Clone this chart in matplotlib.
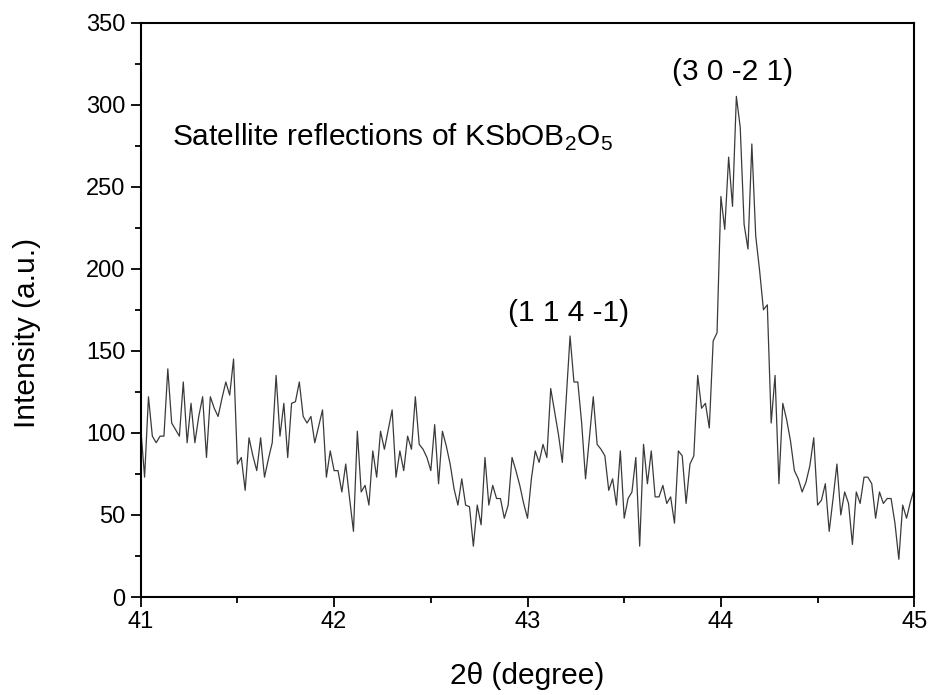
import numpy as np
import matplotlib
matplotlib.use("Agg")
import matplotlib.pyplot as plt
from matplotlib.ticker import MultipleLocator

plt.rcParams['font.family'] = ['Liberation Sans', 'DejaVu Sans']
plt.rcParams['mathtext.fontset'] = 'custom'
plt.rcParams['mathtext.rm'] = 'Liberation Sans'

two_theta_start = 41.0
two_theta_step = 0.02
intensity = [
    103, 73, 122, 98, 94, 98, 98, 139, 106, 102,
    98, 131, 94, 118, 94, 110, 122, 85, 122, 115,
    110, 121, 131, 123, 145, 81, 85, 65, 97, 86,
    77, 97, 73, 84, 94, 135, 98, 118, 85, 118,
    119, 131, 110, 106, 110, 94, 104, 114, 73, 89,
    77, 77, 64, 81, 60, 40, 101, 64, 68, 56,
    89, 73, 101, 90, 102, 114, 73, 89, 77, 98,
    90, 122, 93, 90, 85, 77, 105, 69, 101, 92,
    81, 66, 56, 72, 56, 55, 31, 56, 44, 85,
    56, 68, 60, 60, 48, 56, 85, 77, 68, 57,
    48, 72, 89, 82, 93, 85, 127, 113, 99, 82,
    120, 159, 131, 131, 106, 72, 97, 122, 93, 90,
    86, 65, 72, 56, 89, 48, 60, 64, 85, 31,
    93, 69, 89, 61, 61, 68, 57, 61, 45, 89,
    86, 57, 81, 86, 135, 115, 118, 103, 156, 161,
    244, 224, 268, 238, 305, 286, 227, 212, 276, 220,
    199, 175, 178, 106, 135, 69, 118, 108, 95, 77,
    72, 64, 70, 80, 97, 56, 59, 69, 40, 60,
    81, 50, 64, 57, 32, 64, 57, 73, 73, 69,
    48, 64, 57, 60, 60, 45, 23, 56, 48, 58,
    66,
]
two_theta = two_theta_start + two_theta_step * np.arange(len(intensity))

x_ticks = [41, 42, 43, 44, 45]
y_ticks = [0, 50, 100, 150, 200, 250, 300, 350]

peak_labels = ["(1 1 4 -1)", "(3 0 -2 1)"]
peak_label_x = [43.21, 44.06]
peak_label_y = [173, 320]

fig = plt.figure(figsize=(9.32, 6.95), dpi=100)
ax = fig.add_axes([0.151, 0.141, 0.830, 0.8266])

ax.plot(two_theta, intensity, color='#3a3a3a', lw=0.9)

ax.set_xlim(41, 45)
ax.set_ylim(0, 350)
ax.set_xticks(x_ticks)
ax.set_yticks(y_ticks)
ax.xaxis.set_minor_locator(MultipleLocator(0.5))
ax.yaxis.set_minor_locator(MultipleLocator(25))
ax.tick_params(which='major', direction='out', length=7, width=1.3,
               labelsize=17, top=False, right=False)
ax.tick_params(axis='y', which='major', pad=4)
ax.tick_params(axis='x', which='major', pad=3)
ax.tick_params(which='minor', direction='out', length=4.5, width=1.3,
               top=False, right=False)
for s in ax.spines.values():
    s.set_linewidth(1.5)

ax.set_xlabel("2θ (degree)", fontsize=21.5, va='center')
ax.set_ylabel("Intensity (a.u.)", fontsize=21.5, va='center')
ax.xaxis.set_label_coords(0.5, -0.1375)
ax.yaxis.set_label_coords(-0.1475, 0.46)

ax.text(41.163, 280, "Satellite reflections of KSbOB$_2$O$_5$",
        fontsize=21.5, ha='left', va='center')
for lab, lx, ly in zip(peak_labels, peak_label_x, peak_label_y):
    ax.text(lx, ly, lab, fontsize=21.5, ha='center', va='center')

fig.savefig("out.png", dpi=100)
